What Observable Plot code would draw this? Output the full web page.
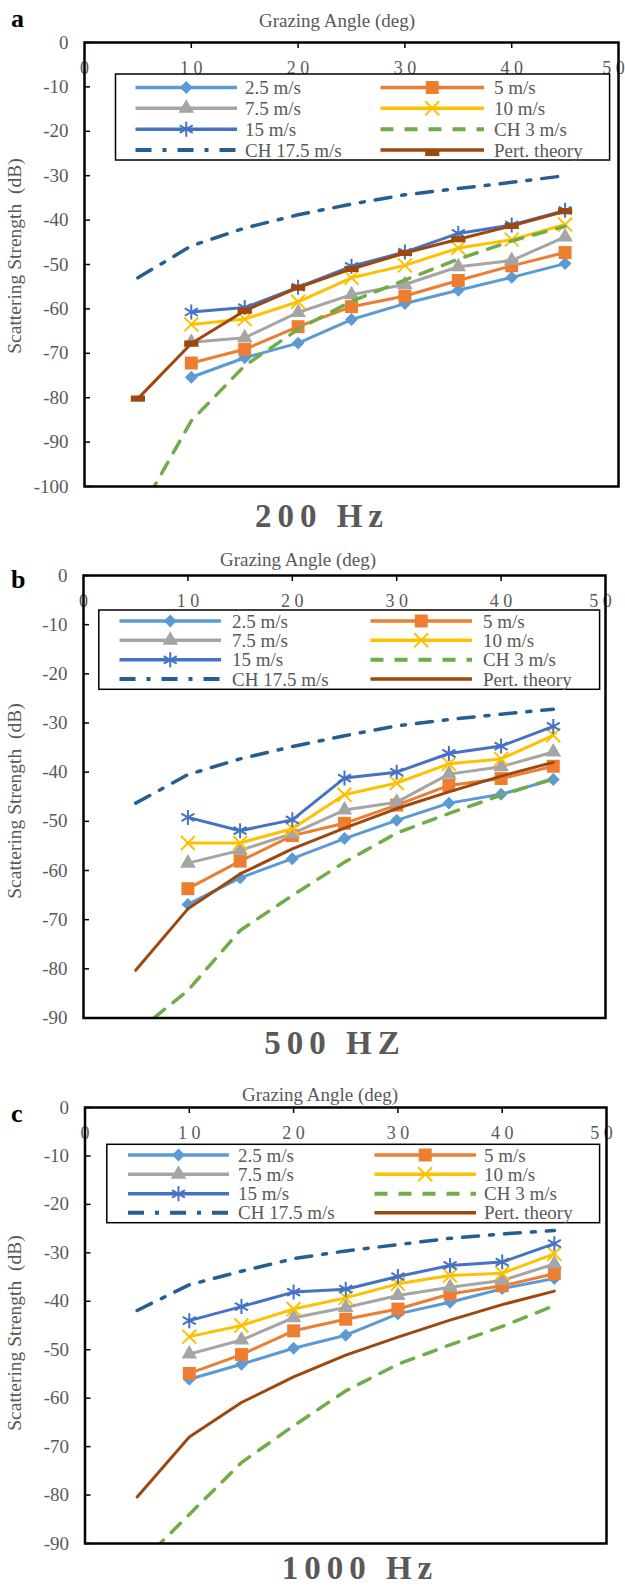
<!DOCTYPE html>
<html>
<head>
<meta charset="utf-8">
<script src="https://cdn.jsdelivr.net/npm/d3@7"></script>
<script src="https://cdn.jsdelivr.net/npm/@observablehq/plot@0.6"></script>
<style>
  html, body { margin: 0; padding: 0; background: #fff; }
  #root { position: relative; width: 625px; height: 1586px; overflow: hidden; }
  #root > svg { position: absolute; left: 0; }
</style>
</head>
<body>
<div id="root"></div>
<script>
const FONT = '"Liberation Serif", "Times New Roman", serif';
const GRAY = "#595959";

// ---------------- data ----------------
const angles = [10, 15, 20, 25, 30, 35, 40, 45];
const modelAngles = [5, 10, 15, 20, 25, 30, 35, 40, 45];
const seriesNames = ["2.5 m/s", "5 m/s", "7.5 m/s", "10 m/s", "15 m/s"];
const modelNames = ["CH 3 m/s", "CH 17.5 m/s", "Pert. theory"];
const xTickValues = [0, 10, 20, 30, 40, 50];
const xTickLabels = ["0", "1 0", "2 0", "3 0", "4 0", "5 0"];
const yTickValues100 = [0, -10, -20, -30, -40, -50, -60, -70, -80, -90, -100];
const yTickLabels100 = ["0", "-10", "-20", "-30", "-40", "-50", "-60", "-70", "-80", "-90", "-100"];
const yTickValues90 = [0, -10, -20, -30, -40, -50, -60, -70, -80, -90];
const yTickLabels90 = ["0", "-10", "-20", "-30", "-40", "-50", "-60", "-70", "-80", "-90"];
const panelTitles = ["200 Hz", "500 HZ", "1000 Hz"];
const panelLetters = ["a", "b", "c"];

// 200 Hz
const hz200_w2_5 = [-75.4, -71.0, -67.7, -62.4, -58.8, -55.8, -52.9, -49.8];
const hz200_w5   = [-72.2, -69.1, -64.0, -59.5, -57.1, -53.6, -50.3, -47.3];
const hz200_w7_5 = [-67.5, -66.5, -60.8, -56.8, -54.5, -50.5, -49.1, -43.8];
const hz200_w10  = [-63.5, -62.3, -58.4, -53.0, -50.2, -46.3, -44.4, -41.0];
const hz200_w15  = [-60.7, -59.7, -55.1, -50.4, -47.2, -43.0, -41.1, -37.8];
const hz200_ch3  = [-106.5, -85.2, -72.8, -64.6, -58.3, -53.5, -48.8, -44.7, -41.4];
const hz200_ch17 = [-53.0, -45.8, -41.8, -38.8, -36.4, -34.3, -32.9, -31.5, -30.0];
const hz200_pert = [-80.2, -67.8, -60.4, -55.2, -51.0, -47.4, -44.3, -41.3, -38.0];

// 500 Hz
const hz500_w2_5 = [-66.9, -61.5, -57.6, -53.5, -49.8, -46.3, -44.5, -41.5];
const hz500_w5   = [-63.7, -58.1, -52.9, -50.4, -46.7, -42.7, -41.3, -38.8];
const hz500_w7_5 = [-58.5, -55.9, -52.5, -47.7, -46.1, -40.4, -38.9, -35.9];
const hz500_w10  = [-54.4, -54.4, -51.5, -44.6, -42.2, -38.3, -37.3, -32.5];
const hz500_w15  = [-49.2, -51.9, -49.7, -41.2, -40.0, -36.2, -34.7, -30.7];
const hz500_ch3  = [-93.0, -84.4, -72.2, -65.1, -58.3, -52.4, -48.4, -44.7, -41.3];
const hz500_ch17 = [-46.3, -40.5, -37.3, -34.8, -32.6, -30.6, -29.3, -28.2, -27.2];
const hz500_pert = [-80.3, -67.8, -60.7, -55.6, -51.4, -47.4, -44.0, -40.8, -38.0];

// 1000 Hz
const hz1000_w2_5 = [-56.1, -53.0, -49.7, -47.0, -42.6, -40.2, -37.4, -35.3];
const hz1000_w5   = [-54.9, -51.0, -46.1, -43.7, -41.6, -38.5, -36.8, -34.3];
const hz1000_w7_5 = [-50.9, -48.0, -43.4, -41.3, -38.8, -37.1, -35.7, -32.3];
const hz1000_w10  = [-47.3, -45.0, -41.6, -39.3, -36.4, -34.7, -34.2, -30.2];
const hz1000_w15  = [-44.0, -41.1, -38.1, -37.5, -34.9, -32.6, -31.9, -28.1];
const hz1000_ch3  = [-94.7, -84.0, -73.3, -65.7, -58.5, -53.0, -49.0, -45.2, -40.9];
const hz1000_ch17 = [-41.9, -36.6, -33.8, -31.2, -29.6, -28.3, -27.0, -26.1, -25.4];
const hz1000_pert = [-80.4, -68.0, -60.9, -55.6, -51.1, -47.4, -43.9, -40.7, -37.9];

// ---------------- styles ----------------
const seriesColors = ["#5B9BD5", "#ED7D31", "#A5A5A5", "#FFC000", "#4472C4"];
const ch3Color = "#70AD47", ch17Color = "#255E91", pertColor = "#9E480E";
const ch3Dash = "13,11", ch17Dash = "16,11,4,11";
const dashSymbol = {
  draw(ctx, size) { const s = Math.sqrt(size); ctx.rect(-0.8 * s, -0.35 * s, 1.6 * s, 0.7 * s); }
};
const markerSpecs = [
  {symbol: "diamond2", d3sym: d3.symbolDiamond2, r: 5.8, filled: true},
  {symbol: "square", d3sym: d3.symbolSquare, r: 7.3, filled: true},
  {symbol: "triangle", d3sym: d3.symbolTriangle, r: 5.8, filled: true},
  {symbol: "times", d3sym: d3.symbolTimes, r: 6.4, filled: false},
  {symbol: "asterisk", d3sym: d3.symbolAsterisk, r: 7.1, filled: false}
];

// ---------------- layout ----------------
const panels = [
  {
    measured: [hz200_w2_5, hz200_w5, hz200_w7_5, hz200_w10, hz200_w15],
    ch3: hz200_ch3, ch17: hz200_ch17, pert: hz200_pert, pertMarker: true,
    yMin: -100, yVals: yTickValues100, yLabs: yTickLabels100,
    svgTop: 0, svgH: 500, frame: {l: 84, r: 618, t: 42, b: 486},
    letter: {x: 11, y: 27}, xlab: {x: 337, y: 27}, ylab: {x: 21, y: 256},
    title: {x: 322, y: 527},
    legend: {box: [115.5, 74, 609.6, 160], rows: [87.5, 108.3, 129.2, 150],
             left: [135.5, 237], leftText: 245, right: [380.5, 484], rightText: 494}
  },
  {
    measured: [hz500_w2_5, hz500_w5, hz500_w7_5, hz500_w10, hz500_w15],
    ch3: hz500_ch3, ch17: hz500_ch17, pert: hz500_pert, pertMarker: false,
    yMin: -90, yVals: yTickValues90, yLabs: yTickLabels90,
    svgTop: 530, svgH: 500, frame: {l: 83, r: 605, t: 575, b: 1017.5},
    letter: {x: 11, y: 588}, xlab: {x: 298, y: 566}, ylab: {x: 21, y: 801},
    title: {x: 335, y: 1054},
    legend: {box: [98.8, 610, 599.6, 689.3], rows: [621, 640.3, 659.8, 679],
             left: [119.5, 221], leftText: 232, right: [370.5, 472], rightText: 483}
  },
  {
    measured: [hz1000_w2_5, hz1000_w5, hz1000_w7_5, hz1000_w10, hz1000_w15],
    ch3: hz1000_ch3, ch17: hz1000_ch17, pert: hz1000_pert, pertMarker: false,
    yMin: -90, yVals: yTickValues90, yLabs: yTickLabels90,
    svgTop: 1060, svgH: 495, frame: {l: 84.5, r: 606, t: 1107, b: 1543},
    letter: {x: 11, y: 1122}, xlab: {x: 320, y: 1101}, ylab: {x: 21, y: 1333},
    title: {x: 360, y: 1579},
    legend: {box: [106.8, 1144.3, 599.6, 1222.7], rows: [1155, 1174.3, 1193.8, 1212.7],
             left: [128, 229], leftText: 238, right: [374.5, 476], rightText: 484}
  }
];

const root = document.getElementById("root");

function buildPlot(p) {
  const f = p.frame;
  const plotW = f.r - f.l, plotH = f.b - f.t;
  const toPts = (xs, ys) => xs.map((x, i) => ({x, y: ys[i]}));
  const marks = [];
  p.measured.forEach((vals, k) => {
    const d = toPts(angles, vals);
    const m = markerSpecs[k];
    marks.push(Plot.line(d, {x: "x", y: "y", stroke: seriesColors[k], strokeWidth: 3, strokeLinejoin: "round", clip: true}));
    marks.push(Plot.dot(d, {
      x: "x", y: "y", symbol: m.symbol, r: m.r,
      fill: m.filled ? seriesColors[k] : "none",
      stroke: m.filled ? "none" : seriesColors[k],
      strokeWidth: m.filled ? 0 : 2
    }));
  });
  marks.push(Plot.line(toPts(modelAngles, p.ch3), {x: "x", y: "y", stroke: ch3Color, strokeWidth: 3.5, strokeDasharray: ch3Dash, clip: true}));
  marks.push(Plot.line(toPts(modelAngles, p.ch17), {x: "x", y: "y", stroke: ch17Color, strokeWidth: 3.5, strokeDasharray: ch17Dash, clip: true}));
  marks.push(Plot.line(toPts(modelAngles, p.pert), {x: "x", y: "y", stroke: pertColor, strokeWidth: 3, strokeLinejoin: "round", clip: true}));
  if (p.pertMarker) {
    marks.push(Plot.dot(toPts(modelAngles, p.pert), {x: "x", y: "y", symbol: dashSymbol, r: 5, fill: pertColor, stroke: "none"}));
  }
  // axes (inward ticks)
  marks.push(Plot.tickX(xTickValues.slice(1, -1), {x: d => d, stroke: "#000", strokeWidth: 1.5, insetBottom: plotH - 6}));
  marks.push(Plot.tickY(p.yVals, {y: d => d, stroke: "#000", strokeWidth: 1.5, insetRight: plotW - 6}));
  const n = xTickValues.length;
  marks.push(Plot.text(xTickValues.slice(0, n - 1), {x: d => d, text: (d, i) => xTickLabels[i], frameAnchor: "top", dy: 19,
    fill: GRAY, fontSize: 18, fontFamily: FONT}));
  marks.push(Plot.text(xTickValues.slice(n - 1), {x: d => d, text: () => xTickLabels[n - 1], frameAnchor: "top", dy: 19, dx: -5,
    fill: GRAY, fontSize: 18, fontFamily: FONT}));
  marks.push(Plot.text(p.yVals, {y: d => d, text: (d, i) => p.yLabs[i], frameAnchor: "left", dx: -16,
    textAnchor: "end", fill: GRAY, fontSize: 19, fontFamily: FONT}));
  marks.push(Plot.frame({stroke: "#000", strokeWidth: 2.5}));

  const svg = Plot.plot({
    width: 625, height: p.svgH,
    marginLeft: f.l, marginRight: 625 - f.r,
    marginTop: f.t - p.svgTop, marginBottom: p.svgTop + p.svgH - f.b,
    x: {domain: [0, 50], axis: null},
    y: {domain: [p.yMin, 0], axis: null},
    style: {fontFamily: FONT, background: "transparent", overflow: "visible"},
    marks
  });
  svg.style.top = p.svgTop + "px";
  svg.style.position = "absolute";
  root.appendChild(svg);
}

panels.forEach(buildPlot);

// ---------------- overlay: labels, titles, legends ----------------
const ov = d3.select(root).append("svg")
  .attr("width", 625).attr("height", 1586)
  .style("position", "absolute").style("top", "0px").style("left", "0px")
  .style("font-family", FONT);

panels.forEach((p, pi) => {
  ov.append("text").attr("x", p.letter.x).attr("y", p.letter.y)
    .attr("font-size", 26).attr("font-weight", "bold").attr("fill", "#000").text(panelLetters[pi]);
  ov.append("text").attr("x", p.xlab.x).attr("y", p.xlab.y).attr("text-anchor", "middle")
    .attr("font-size", 19).attr("fill", GRAY).text("Grazing Angle (deg)");
  ov.append("text").attr("transform", `translate(${p.ylab.x},${p.ylab.y}) rotate(-90)`)
    .attr("text-anchor", "middle").attr("font-size", 19.5).attr("fill", GRAY)
    .attr("xml:space", "preserve").style("white-space", "pre")
    .text("Scattering Strength  (dB)");
  ov.append("text").attr("x", p.title.x).attr("y", p.title.y).attr("text-anchor", "middle")
    .attr("font-size", 33).attr("font-weight", "bold").attr("letter-spacing", "6px")
    .attr("fill", GRAY).text(panelTitles[pi]);

  // legend
  const L = p.legend;
  const g = ov.append("g");
  g.append("rect").attr("x", L.box[0]).attr("y", L.box[1])
    .attr("width", L.box[2] - L.box[0]).attr("height", L.box[3] - L.box[1])
    .attr("fill", "#fff").attr("stroke", "#000").attr("stroke-width", 1.5);
  const items = [];
  seriesNames.forEach((nm, k) => items.push({name: nm, color: seriesColors[k], width: 3.5, dash: null, marker: markerSpecs[k]}));
  items.push({name: modelNames[0], color: ch3Color, width: 4, dash: ch3Dash, marker: null});
  items.push({name: modelNames[1], color: ch17Color, width: 4, dash: ch17Dash, marker: null});
  items.push({name: modelNames[2], color: pertColor, width: 3.5, dash: null,
    marker: p.pertMarker ? {custom: dashSymbol, r: 5, filled: true} : null});
  items.forEach((it, i) => {
    const col = i % 2, row = Math.floor(i / 2);
    const [x1, x2] = col === 0 ? L.left : L.right;
    const tx = col === 0 ? L.leftText : L.rightText;
    const y = L.rows[row];
    g.append("line").attr("x1", x1).attr("x2", x2).attr("y1", y).attr("y2", y)
      .attr("stroke", it.color).attr("stroke-width", it.width)
      .attr("stroke-dasharray", it.dash);
    if (it.marker) {
      const m = it.marker;
      const symType = m.custom ? m.custom : m.d3sym;
      g.append("path")
        .attr("d", d3.symbol(symType, Math.PI * m.r * m.r)())
        .attr("transform", `translate(${(x1 + x2) / 2},${m.custom ? y + 3 : y})`)
        .attr("fill", m.filled ? it.color : "none")
        .attr("stroke", m.filled ? "none" : it.color)
        .attr("stroke-width", m.filled ? 0 : 2);
    }
    g.append("text").attr("x", tx).attr("y", y).attr("dy", "0.35em")
      .attr("font-size", 19).attr("fill", GRAY).text(it.name);
  });
});
</script>
</body>
</html>
